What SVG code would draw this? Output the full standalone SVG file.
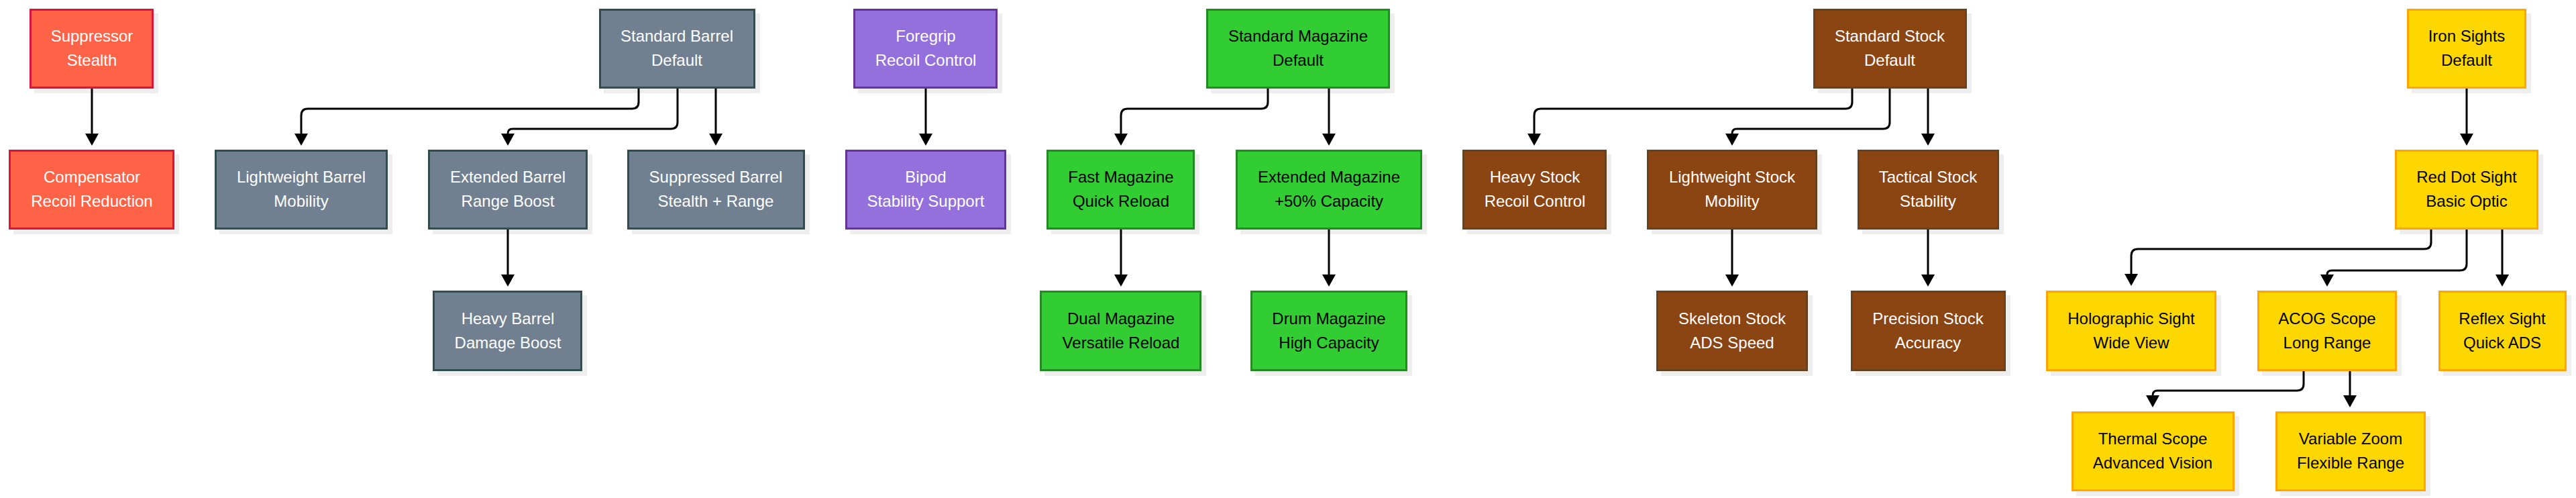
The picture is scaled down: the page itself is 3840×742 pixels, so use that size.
<svg xmlns="http://www.w3.org/2000/svg" width="3840" height="742" viewBox="0 0 3840 742">
<style>
  text { font-family: "Liberation Sans", Arial, sans-serif; font-size: 24px; text-anchor: middle; }
  .sh { fill: #eeeeee; }
  .box { stroke-width: 3; }
  .red .box { fill: #FF6347; stroke: #DC143C; }
  .red text { fill: #ffffff; }
  .gray .box { fill: #708090; stroke: #2F4F4F; }
  .gray text { fill: #ffffff; }
  .purple .box { fill: #9370DB; stroke: #663399; }
  .purple text { fill: #ffffff; }
  .green .box { fill: #32CD32; stroke: #228B22; }
  .green text { fill: #000000; }
  .brown .box { fill: #8B4513; stroke: #654321; }
  .brown text { fill: #ffffff; }
  .gold .box { fill: #FFD700; stroke: #FFA500; }
  .gold text { fill: #000000; }
  .edge { fill: none; stroke: #000000; stroke-width: 3; marker-end: url(#arr); }
</style>
<defs>
  <marker id="arr" viewBox="0 0 18 20" refX="0" refY="10" markerWidth="18" markerHeight="20" markerUnits="userSpaceOnUse" orient="auto">
    <path d="M0,0 L18,10 L0,20 z" fill="#000000"/>
  </marker>
</defs>
<rect width="3840" height="742" fill="#ffffff"/>

<!-- Row 1 -->
<g id="suppressor" class="red">
  <rect class="sh" x="51" y="20" width="185" height="119"/>
  <rect class="box" x="45.5" y="14.5" width="182" height="116"/>
  <text x="137" y="62">Suppressor</text><text x="137" y="98">Stealth</text>
</g>
<g id="standard-barrel" class="gray">
  <rect class="sh" x="900" y="20" width="233" height="119"/>
  <rect class="box" x="894.5" y="14.5" width="230" height="116"/>
  <text x="1009" y="62">Standard Barrel</text><text x="1009" y="98">Default</text>
</g>
<g id="foregrip" class="purple">
  <rect class="sh" x="1279" y="20" width="215" height="119"/>
  <rect class="box" x="1273.5" y="14.5" width="212" height="116"/>
  <text x="1380" y="62">Foregrip</text><text x="1380" y="98">Recoil Control</text>
</g>
<g id="standard-magazine" class="green">
  <rect class="sh" x="1805" y="20" width="274" height="119"/>
  <rect class="box" x="1799.5" y="14.5" width="271" height="116"/>
  <text x="1935" y="62">Standard Magazine</text><text x="1935" y="98">Default</text>
</g>
<g id="standard-stock" class="brown">
  <rect class="sh" x="2710" y="20" width="229" height="119"/>
  <rect class="box" x="2704.5" y="14.5" width="226" height="116"/>
  <text x="2817" y="62">Standard Stock</text><text x="2817" y="98">Default</text>
</g>
<g id="iron-sights" class="gold">
  <rect class="sh" x="3595" y="20" width="178" height="119"/>
  <rect class="box" x="3589.5" y="14.5" width="175" height="116"/>
  <text x="3677" y="62">Iron Sights</text><text x="3677" y="98">Default</text>
</g>

<!-- Row 2 -->
<g id="compensator" class="red">
  <rect class="sh" x="20" y="230" width="247" height="119"/>
  <rect class="box" x="14.5" y="224.5" width="244" height="116"/>
  <text x="137" y="272">Compensator</text><text x="137" y="308">Recoil Reduction</text>
</g>
<g id="lightweight-barrel" class="gray">
  <rect class="sh" x="327" y="230" width="258" height="119"/>
  <rect class="box" x="321.5" y="224.5" width="255" height="116"/>
  <text x="449" y="272">Lightweight Barrel</text><text x="449" y="308">Mobility</text>
</g>
<g id="extended-barrel" class="gray">
  <rect class="sh" x="645" y="230" width="238" height="119"/>
  <rect class="box" x="639.5" y="224.5" width="235" height="116"/>
  <text x="757" y="272">Extended Barrel</text><text x="757" y="308">Range Boost</text>
</g>
<g id="suppressed-barrel" class="gray">
  <rect class="sh" x="942" y="230" width="265" height="119"/>
  <rect class="box" x="936.5" y="224.5" width="262" height="116"/>
  <text x="1067" y="272">Suppressed Barrel</text><text x="1067" y="308">Stealth + Range</text>
</g>
<g id="bipod" class="purple">
  <rect class="sh" x="1267" y="230" width="240" height="119"/>
  <rect class="box" x="1261.5" y="224.5" width="237" height="116"/>
  <text x="1380" y="272">Bipod</text><text x="1380" y="308">Stability Support</text>
</g>
<g id="fast-magazine" class="green">
  <rect class="sh" x="1567" y="230" width="221" height="119"/>
  <rect class="box" x="1561.5" y="224.5" width="218" height="116"/>
  <text x="1671" y="272">Fast Magazine</text><text x="1671" y="308">Quick Reload</text>
</g>
<g id="extended-magazine" class="green">
  <rect class="sh" x="1849" y="230" width="278" height="119"/>
  <rect class="box" x="1843.5" y="224.5" width="275" height="116"/>
  <text x="1981" y="272">Extended Magazine</text><text x="1981" y="308">+50% Capacity</text>
</g>
<g id="heavy-stock" class="brown">
  <rect class="sh" x="2187" y="230" width="215" height="119"/>
  <rect class="box" x="2181.5" y="224.5" width="212" height="116"/>
  <text x="2288" y="272">Heavy Stock</text><text x="2288" y="308">Recoil Control</text>
</g>
<g id="lightweight-stock" class="brown">
  <rect class="sh" x="2462" y="230" width="254" height="119"/>
  <rect class="box" x="2456.5" y="224.5" width="251" height="116"/>
  <text x="2582" y="272">Lightweight Stock</text><text x="2582" y="308">Mobility</text>
</g>
<g id="tactical-stock" class="brown">
  <rect class="sh" x="2776" y="230" width="211" height="119"/>
  <rect class="box" x="2770.5" y="224.5" width="208" height="116"/>
  <text x="2874" y="272">Tactical Stock</text><text x="2874" y="308">Stability</text>
</g>
<g id="red-dot-sight" class="gold">
  <rect class="sh" x="3577" y="230" width="214" height="119"/>
  <rect class="box" x="3571.5" y="224.5" width="211" height="116"/>
  <text x="3677" y="272">Red Dot Sight</text><text x="3677" y="308">Basic Optic</text>
</g>

<!-- Row 3 -->
<g id="heavy-barrel" class="gray">
  <rect class="sh" x="652" y="440" width="223" height="120"/>
  <rect class="box" x="646.5" y="434.5" width="220" height="117"/>
  <text x="757" y="483">Heavy Barrel</text><text x="757" y="519">Damage Boost</text>
</g>
<g id="dual-magazine" class="green">
  <rect class="sh" x="1557" y="440" width="241" height="120"/>
  <rect class="box" x="1551.5" y="434.5" width="238" height="117"/>
  <text x="1671" y="483">Dual Magazine</text><text x="1671" y="519">Versatile Reload</text>
</g>
<g id="drum-magazine" class="green">
  <rect class="sh" x="1871" y="440" width="234" height="120"/>
  <rect class="box" x="1865.5" y="434.5" width="231" height="117"/>
  <text x="1981" y="483">Drum Magazine</text><text x="1981" y="519">High Capacity</text>
</g>
<g id="skeleton-stock" class="brown">
  <rect class="sh" x="2476" y="440" width="226" height="120"/>
  <rect class="box" x="2470.5" y="434.5" width="223" height="117"/>
  <text x="2582" y="483">Skeleton Stock</text><text x="2582" y="519">ADS Speed</text>
</g>
<g id="precision-stock" class="brown">
  <rect class="sh" x="2766" y="440" width="231" height="120"/>
  <rect class="box" x="2760.5" y="434.5" width="228" height="117"/>
  <text x="2874" y="483">Precision Stock</text><text x="2874" y="519">Accuracy</text>
</g>
<g id="holographic-sight" class="gold">
  <rect class="sh" x="3057" y="440" width="254" height="120"/>
  <rect class="box" x="3051.5" y="434.5" width="251" height="117"/>
  <text x="3177" y="483">Holographic Sight</text><text x="3177" y="519">Wide View</text>
</g>
<g id="acog-scope" class="gold">
  <rect class="sh" x="3372" y="440" width="208" height="120"/>
  <rect class="box" x="3366.5" y="434.5" width="205" height="117"/>
  <text x="3469" y="483">ACOG Scope</text><text x="3469" y="519">Long Range</text>
</g>
<g id="reflex-sight" class="gold">
  <rect class="sh" x="3642" y="440" width="191" height="120"/>
  <rect class="box" x="3636.5" y="434.5" width="188" height="117"/>
  <text x="3730" y="483">Reflex Sight</text><text x="3730" y="519">Quick ADS</text>
</g>

<!-- Row 4 -->
<g id="thermal-scope" class="gold">
  <rect class="sh" x="3095" y="620" width="243" height="119"/>
  <rect class="box" x="3089.5" y="614.5" width="240" height="116"/>
  <text x="3209" y="662">Thermal Scope</text><text x="3209" y="698">Advanced Vision</text>
</g>
<g id="variable-zoom" class="gold">
  <rect class="sh" x="3399" y="620" width="224" height="119"/>
  <rect class="box" x="3393.5" y="614.5" width="221" height="116"/>
  <text x="3504" y="662">Variable Zoom</text><text x="3504" y="698">Flexible Range</text>
</g>

<!-- Connectors -->
<g id="connectors">
  <path class="edge" d="M137,132 V199"/>
  <path class="edge" d="M952,132 V152 Q952,162 942,162 H459 Q449,162 449,172 V199"/>
  <path class="edge" d="M1010,132 V182 Q1010,192 1000,192 H764 Q757,192 757,199"/>
  <path class="edge" d="M1067,132 V199"/>
  <path class="edge" d="M757,342 V409"/>
  <path class="edge" d="M1380,132 V199"/>
  <path class="edge" d="M1890,132 V152 Q1890,162 1880,162 H1681 Q1671,162 1671,172 V199"/>
  <path class="edge" d="M1981,132 V199"/>
  <path class="edge" d="M1671,342 V409"/>
  <path class="edge" d="M1981,342 V409"/>
  <path class="edge" d="M2761,132 V152 Q2761,162 2751,162 H2297 Q2287,162 2287,172 V199"/>
  <path class="edge" d="M2817,132 V182 Q2817,192 2807,192 H2589 Q2582,192 2582,199"/>
  <path class="edge" d="M2874,132 V199"/>
  <path class="edge" d="M2582,342 V409"/>
  <path class="edge" d="M2874,342 V409"/>
  <path class="edge" d="M3677,132 V199"/>
  <path class="edge" d="M3624,342 V361 Q3624,371 3614,371 H3187 Q3177,371 3177,381 V408"/>
  <path class="edge" d="M3677,342 V393 Q3677,403 3667,403 H3476 Q3469,403 3469,409"/>
  <path class="edge" d="M3730,342 V409"/>
  <path class="edge" d="M3434,553 V572 Q3434,582 3424,582 H3216 Q3209,582 3209,589"/>
  <path class="edge" d="M3503,553 V589"/>
</g>
</svg>
